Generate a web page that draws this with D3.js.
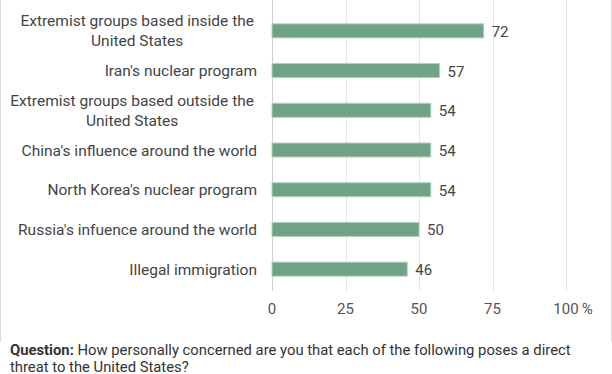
<!DOCTYPE html>
<html>
<head>
<meta charset="utf-8">
<script src="https://cdn.jsdelivr.net/npm/d3@7"></script>
<style>
  body { margin: 0; background: #fff; }
  svg { font-family: Roboto, "Noto Sans", sans-serif; display: block; }
</style>
</head>
<body>
<script>
//chart data
var categories = [
    ["Extremist groups based inside the", "United States"],
    ["Iran's nuclear program"],
    ["Extremist groups based outside the", "United States"],
    ["China's influence around the world"],
    ["North Korea's nuclear program"],
    ["Russia's infuence around the world"],
    ["Illegal immigration"]
];
var values = [72, 57, 54, 54, 54, 50, 46];
var ticks = [0, 25, 50, 75, 100];

window.onload = drawChart();

function drawChart(){
    var width = 612,
        height = 374;

    var svg = d3.select("body")
        .append("svg")
        .attr("width", width)
        .attr("height", height);

    var x = d3.scaleLinear()
        .domain([0, 100])
        .range([272, 566]);

    var y = d3.scaleBand()
        .domain(d3.range(values.length))
        .range([11, 289]);

    //frame lines left and right
    svg.selectAll(".frame")
        .data([0.5, width - 0.5])
        .enter()
        .append("line")
        .attr("x1", function(d){ return d; })
        .attr("x2", function(d){ return d; })
        .attr("y1", 0)
        .attr("y2", 342)
        .style("stroke", "#dcdcdc")
        .style("stroke-width", 1);

    //gridlines
    svg.selectAll(".grid")
        .data(ticks)
        .enter()
        .append("line")
        .attr("x1", function(d){ return Math.round(x(d)) + 0.5; })
        .attr("x2", function(d){ return Math.round(x(d)) + 0.5; })
        .attr("y1", 0)
        .attr("y2", 291)
        .style("stroke", function(d){ return d === 0 ? "#d0d0d0" : "#e6e6e6"; })
        .style("stroke-width", 1);

    //tick labels
    svg.selectAll(".tick")
        .data(ticks)
        .enter()
        .append("text")
        .attr("x", function(d){ return x(d); })
        .attr("y", 314)
        .attr("text-anchor", "middle")
        .style("font-size", "15px")
        .style("fill", "#555")
        .text(function(d){ return d; });
    svg.append("text")
        .attr("x", x(100) + 12)
        .attr("y", 314)
        .style("font-size", "15px")
        .style("fill", "#555")
        .text("\u00a0%");

    //bars
    var barH = 14;
    svg.selectAll(".bar")
        .data(values)
        .enter()
        .append("rect")
        .attr("x", x(0))
        .attr("y", function(d, i){ return y(i) + y.bandwidth() / 2 - barH / 2; })
        .attr("width", function(d){ return x(d) - x(0); })
        .attr("height", barH)
        .style("fill", "#6fa287")
        .style("stroke", "#b2cfbf")
        .style("stroke-width", 1);

    //value labels
    svg.selectAll(".val")
        .data(values)
        .enter()
        .append("text")
        .attr("x", function(d){ return x(d) + 8; })
        .attr("y", function(d, i){ return y(i) + y.bandwidth() / 2 + 6; })
        .style("font-size", "15px")
        .style("fill", "#444")
        .text(function(d){ return d; });

    //category labels, multi-line blocks centered, blocks right aligned
    categories.forEach(function(lines, i){
        var cy = y(i) + y.bandwidth() / 2;
        var lineH = 20;
        var g = svg.append("text")
            .style("font-size", "15.5px")
            .style("fill", "#444")
            .attr("text-anchor", "middle");
        var spans = g.selectAll("tspan")
            .data(lines)
            .enter()
            .append("tspan")
            .attr("y", function(d, j){ return cy + 5.5 + (j - (lines.length - 1) / 2) * lineH; })
            .text(function(d){ return d; });
        var maxW = 0;
        spans.each(function(){ maxW = Math.max(maxW, this.getComputedTextLength()); });
        var right = lines.length > 1 ? 254 : 257;
        spans.attr("x", right - maxW / 2);
    });

    //question note
    var note = svg.append("text")
        .attr("x", 10)
        .attr("y", 355)
        .style("font-size", "14.8px")
        .style("fill", "#333");
    note.append("tspan")
        .style("font-weight", "bold")
        .text("Question:");
    note.append("tspan")
        .text(" How personally concerned are you that each of the following poses a direct");
    svg.append("text")
        .attr("x", 10)
        .attr("y", 372)
        .style("font-size", "14.8px")
        .style("fill", "#333")
        .text("threat to the United States?");
}
</script>
</body>
</html>
